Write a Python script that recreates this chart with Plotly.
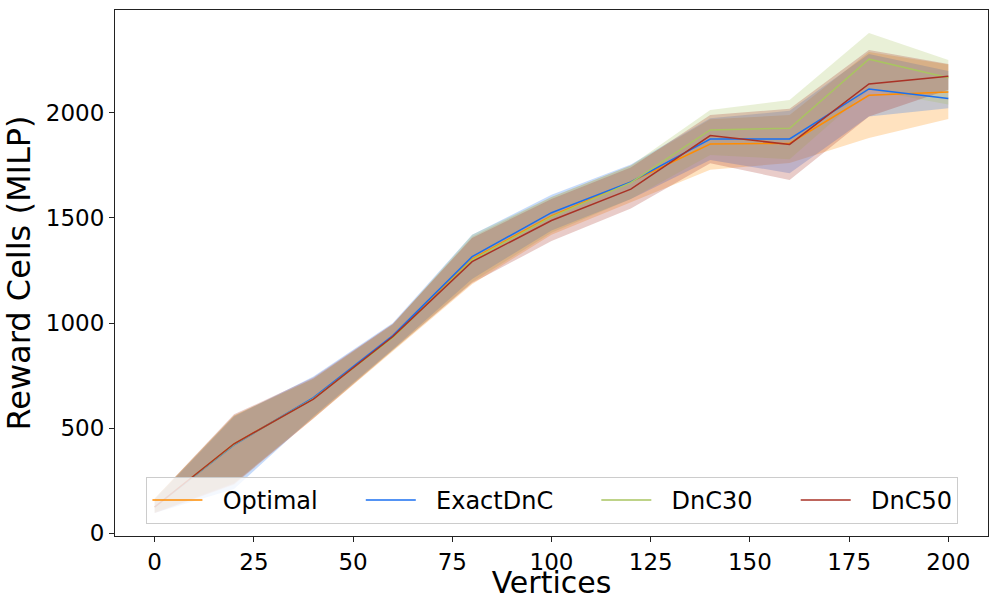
import plotly.graph_objects as go

vertices = [0, 20, 40, 60, 80, 100, 120, 140, 160, 180, 200]

series_names = ["Optimal", "ExactDnC", "DnC30", "DnC50"]

optimal_mean = [124, 425, 640, 935, 1305, 1510, 1672, 1852, 1855, 2084, 2100]
optimal_lo = [95, 230, 545, 865, 1185, 1420, 1575, 1729, 1762, 1881, 1971]
optimal_hi = [165, 560, 735, 995, 1410, 1600, 1750, 1970, 1990, 2290, 2230]

exact_mean = [124, 420, 645, 940, 1316, 1525, 1672, 1876, 1876, 2114, 2069]
exact_lo = [95, 210, 555, 875, 1210, 1440, 1590, 1776, 1713, 1983, 2022]
exact_hi = [160, 555, 745, 1000, 1420, 1610, 1755, 1975, 2010, 2280, 2200]

dnc30_mean = [124, 422, 640, 930, 1300, 1505, 1668, 1919, 1927, 2256, 2167]
dnc30_lo = [100, 240, 550, 870, 1195, 1430, 1590, 1800, 1780, 2110, 2040]
dnc30_hi = [165, 560, 735, 990, 1420, 1600, 1750, 2014, 2062, 2381, 2252]

dnc50_mean = [124, 425, 638, 935, 1292, 1488, 1637, 1892, 1850, 2138, 2175]
dnc50_lo = [95, 235, 545, 870, 1190, 1390, 1545, 1760, 1681, 1983, 2110]
dnc50_hi = [165, 565, 740, 995, 1405, 1590, 1740, 1990, 2020, 2300, 2233]

means = [optimal_mean, exact_mean, dnc30_mean, dnc50_mean]
los = [optimal_lo, exact_lo, dnc30_lo, dnc50_lo]
his = [optimal_hi, exact_hi, dnc30_hi, dnc50_hi]

colors = ["#ff8c00", "#1a6ff0", "#a9c461", "#a93226"]
fills = ["rgba(255,140,0,0.25)", "rgba(26,111,240,0.25)", "rgba(169,196,97,0.25)", "rgba(169,50,38,0.25)"]

FONT = "DejaVu Sans"
LEAD = "\u00a0" * 2
TRAIL = "\u00a0" * 5

fig = go.Figure()

for name, lo, hi, fc in zip(series_names, los, his, fills):
    fig.add_trace(go.Scatter(
        x=vertices + vertices[::-1],
        y=hi + lo[::-1],
        fill="toself", fillcolor=fc,
        line=dict(width=0), mode="lines",
        showlegend=False, hoverinfo="skip",
    ))

for i, (name, m, c) in enumerate(zip(series_names, means, colors)):
    label = LEAD + name + (TRAIL if i < len(series_names) - 1 else "")
    fig.add_trace(go.Scatter(
        x=vertices, y=m, mode="lines", name=label,
        line=dict(color=c, width=1.5),
    ))

axis_common = dict(
    showgrid=False, zeroline=False, automargin=False,
    showline=True, linecolor="#222", linewidth=1, mirror=True,
    ticks="outside", ticklen=5, tickcolor="#222", tickwidth=1,
    tickfont=dict(family=FONT, size=23, color="black"),
)

fig.update_layout(
    width=989, height=600,
    margin=dict(l=115, r=1, t=10, b=64),
    paper_bgcolor="white", plot_bgcolor="white",
    font=dict(family=FONT, color="black"),
    xaxis=dict(range=[-10, 210], tickmode="array",
               tickvals=[0, 25, 50, 75, 100, 125, 150, 175, 200],
               title=dict(text="Vertices", font=dict(family=FONT, size=30), standoff=6),
               **axis_common),
    yaxis=dict(range=[-14, 2490], tickmode="array",
               tickvals=[0, 500, 1000, 1500, 2000],
               title=dict(text="Reward Cells (MILP)", font=dict(family=FONT, size=32), standoff=12),
               **axis_common),
    legend=dict(
        orientation="h", x=0.036, y=0.023, xanchor="left", yanchor="bottom",
        bgcolor="rgba(255,255,255,0.8)", bordercolor="#cccccc", borderwidth=1,
        font=dict(family=FONT, size=24), itemwidth=50,
    ),
    showlegend=True,
)

fig.write_html("out.html")
